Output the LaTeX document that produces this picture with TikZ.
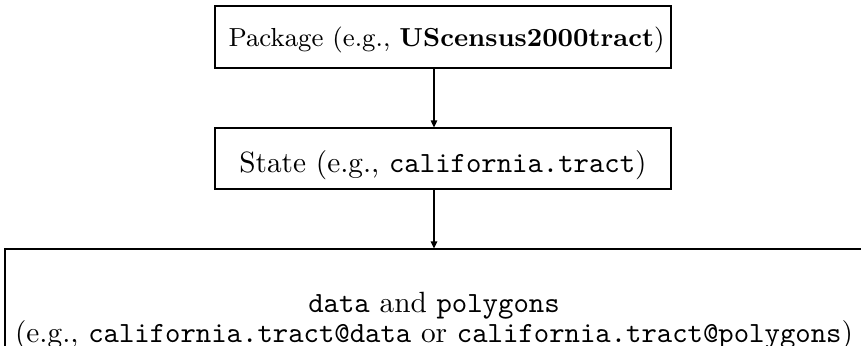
\documentclass[tikz,border=0pt]{standalone}
\usetikzlibrary{arrows.meta}
\begin{document}
\begin{tikzpicture}[x=0.3413pt,y=-0.3413pt,
  box/.style={draw, line width=0.4pt, rectangle, inner sep=0pt},
  flow/.style={line width=0.4pt, -{Triangle[length=2.4pt,width=2.2pt]}}]
\clip (0,0) rectangle (861,345);
\node[box, minimum width=155.6pt, minimum height=21.2pt, text height=6.4pt, text depth=0pt,
      font=\fontsize{8.9}{11}\selectfont] (pkg) at (443,37)
  {\hskip 2.4pt Package (e.g., \textbf{UScensus2000tract})};
\node[box, minimum width=155.6pt, minimum height=20.8pt, text height=9.8pt, text depth=0pt] (state) at (443,158.5)
  {State (e.g., \texttt{california.tract})};
\node[box, minimum width=292.8pt, minimum height=49.1pt, align=center, font=\fontsize{10}{10.5}\selectfont] (bot) at (434,321)
  {\texttt{data} and \texttt{polygons}\\(e.g., \texttt{california.tract@data} or \texttt{california.tract@polygons})};
\draw[flow] (pkg.south -| bot.north) -- (state.north -| bot.north);
\draw[flow] (state.south -| bot.north) -- (bot.north);
\end{tikzpicture}
\end{document}
